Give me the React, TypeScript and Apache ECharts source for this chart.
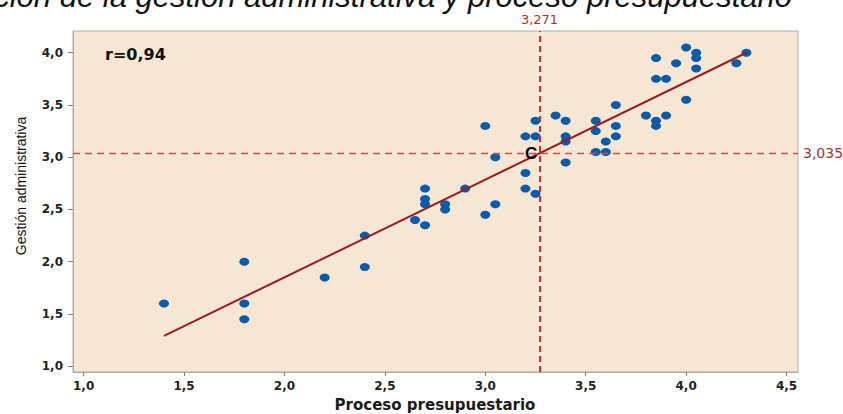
import React, { useEffect, useRef } from "react";
import * as echarts from "echarts";

const xValues = [1.4, 1.8, 1.8, 1.8, 2.2, 2.4, 2.4, 2.65, 2.7, 2.7, 2.7, 2.7, 2.8, 2.8, 2.9, 3.0, 3.05, 3.05, 3.0, 3.2, 3.2, 3.25, 3.2, 3.25, 3.25, 3.35, 3.4, 3.4, 3.4, 3.4, 3.55, 3.55, 3.55, 3.6, 3.6, 3.65, 3.65, 3.65, 3.8, 3.85, 3.85, 3.85, 3.85, 3.9, 3.9, 3.95, 4.0, 4.0, 4.05, 4.05, 4.05, 4.25, 4.3];
const yValues = [1.6, 2.0, 1.6, 1.45, 1.85, 2.25, 1.95, 2.4, 2.7, 2.6, 2.55, 2.35, 2.55, 2.5, 2.7, 2.45, 2.55, 3.0, 3.3, 2.85, 2.7, 2.65, 3.2, 3.2, 3.35, 3.4, 3.35, 3.2, 3.15, 2.95, 3.35, 3.25, 3.05, 3.15, 3.05, 3.5, 3.3, 3.2, 3.4, 3.95, 3.75, 3.35, 3.3, 3.75, 3.4, 3.9, 4.05, 3.55, 4.0, 3.95, 3.85, 3.9, 4.0];
const trendX = [1.4, 4.3];
const trendY = [1.29, 4.0];
const meanX = 3.271;
const meanY = 3.035;
const xTicks = [1.0, 1.5, 2.0, 2.5, 3.0, 3.5, 4.0, 4.5];
const yTicks = [1.0, 1.5, 2.0, 2.5, 3.0, 3.5, 4.0];
const xRange = [0.947, 4.557];
const yRange = [0.945, 4.208];
const titleText = "Relación de la gestión administrativa y proceso presupuestario";
const rText = "r=0,94";
const xName = "Proceso presupuestario";
const yName = "Gestión administrativa";

const fmt = (v: number) => v.toFixed(1).replace(".", ",");
const fmt3 = (v: number) => v.toFixed(3).replace(".", ",");

export default function App() {
  const ref = useRef<HTMLDivElement>(null);
  useEffect(() => {
    document.body.style.margin = "0";
    if (!ref.current) return;
    const chart = echarts.init(ref.current, null, { renderer: "svg" });
    const points = xValues.map((x, i) => [x, yValues[i]]);
    const trend = trendX.map((x, i) => [x, trendY[i]]);
    const tickFont = { fontFamily: "DejaVu Sans", fontWeight: "bold" as const, fontSize: 12, color: "#222" };
    chart.setOption({
      animation: false,
      backgroundColor: "#ffffff",
      grid: {
        left: 73,
        right: 45,
        top: 31,
        bottom: 42,
        show: true,
        backgroundColor: "#F5E7D3",
        borderColor: "#B0B0B0",
        borderWidth: 1,
      },
      xAxis: {
        type: "value",
        min: xRange[0],
        max: xRange[1],
        splitLine: { show: false },
        axisLine: { show: true, lineStyle: { color: "#A8A8A8" } },
        axisTick: { show: true, length: 4, lineStyle: { color: "#808080" }, customValues: xTicks },
        axisLabel: { ...tickFont, margin: 8, formatter: (v: number) => fmt(v), customValues: xTicks },
      },
      yAxis: {
        type: "value",
        min: yRange[0],
        max: yRange[1],
        splitLine: { show: false },
        axisLine: { show: true, lineStyle: { color: "#A8A8A8" } },
        axisTick: { show: true, length: 5, lineStyle: { color: "#808080" }, customValues: yTicks },
        axisLabel: { ...tickFont, margin: 10, formatter: (v: number) => fmt(v), customValues: yTicks },
      },
      graphic: [
        {
          type: "text",
          x: 792,
          y: -4,
          style: {
            text: titleText,
            fontFamily: "Liberation Sans",
            fontStyle: "italic",
            fontSize: 31,
            fill: "#111",
            textAlign: "right",
            textVerticalAlign: "middle",
          },
        },
        {
          type: "text",
          x: 105,
          y: 54,
          style: {
            text: rText,
            fontFamily: "DejaVu Sans",
            fontWeight: "bold",
            fontSize: 16,
            fill: "#111",
            textAlign: "left",
            textVerticalAlign: "middle",
          },
        },
        {
          type: "text",
          x: 435,
          y: 405,
          style: {
            text: xName,
            fontFamily: "DejaVu Sans",
            fontWeight: "bold",
            fontSize: 15,
            fill: "#1a1a1a",
            textAlign: "center",
            textVerticalAlign: "middle",
          },
        },
        {
          type: "text",
          x: 21,
          y: 186,
          rotation: Math.PI / 2,
          style: {
            text: yName,
            fontFamily: "Liberation Sans",
            fontSize: 14,
            fill: "#111",
            textAlign: "center",
            textVerticalAlign: "middle",
          },
        },
      ],
      series: [
        {
          type: "scatter",
          data: points,
          symbol: "circle",
          symbolSize: [10, 8],
          itemStyle: { color: "#0B5BA8", opacity: 1 },
          z: 2,
        },
        {
          type: "line",
          data: trend,
          showSymbol: false,
          symbol: "none",
          lineStyle: { color: "#9B1C1C", width: 2 },
          z: 3,
          markLine: {
            silent: true,
            symbol: "none",
            data: [
              {
                xAxis: meanX,
                lineStyle: { color: "#D42A2A", width: 2, type: [6, 4] },
                label: {
                  show: true,
                  position: "end",
                  formatter: fmt3(meanX),
                  fontFamily: "DejaVu Sans",
                  fontSize: 13,
                  color: "#A83232",
                  distance: 5,
                },
              },
              {
                yAxis: meanY,
                lineStyle: { color: "#E04848", width: 1.3, type: [7, 5] },
                label: {
                  show: true,
                  position: "end",
                  formatter: fmt3(meanY),
                  fontFamily: "DejaVu Sans",
                  fontSize: 14,
                  color: "#A83232",
                  distance: 5,
                },
              },
            ],
          },
          markPoint: {
            silent: true,
            symbol: "circle",
            symbolSize: 1,
            itemStyle: { color: "rgba(0,0,0,0)" },
            data: [{ coord: [meanX, meanY] }],
            label: {
              show: true,
              formatter: "C",
              position: "left",
              distance: 2,
              fontFamily: "Liberation Sans",
              fontWeight: "bold",
              fontSize: 17,
              color: "#000",
            },
          },
        },
      ],
    });
    return () => chart.dispose();
  }, []);
  return <div ref={ref} style={{ width: 843, height: 414 }} />;
}
